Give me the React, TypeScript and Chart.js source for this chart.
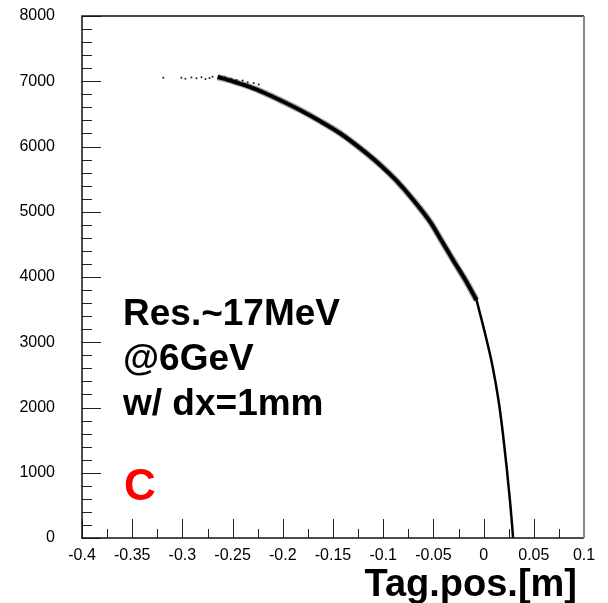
import { useEffect, useRef } from "react";
import { Chart, registerables } from "chart.js";

Chart.register(...registerables);

// ---- axis ticks ----
const X_TICKS = [-0.4, -0.35, -0.3, -0.25, -0.2, -0.15, -0.1, -0.05, 0, 0.05, 0.1];
const X_TICK_LABELS = ["-0.4", "-0.35", "-0.3", "-0.25", "-0.2", "-0.15", "-0.1", "-0.05", "0", "0.05", "0.1"];
const Y_TICKS = [0, 1000, 2000, 3000, 4000, 5000, 6000, 7000, 8000];
const Y_TICK_LABELS = ["0", "1000", "2000", "3000", "4000", "5000", "6000", "7000", "8000"];

// ---- data: upper branch (tag position vs energy, MeV) ----
const UPPER_X = [-0.265, -0.25, -0.233, -0.218, -0.203, -0.183, -0.163, -0.143, -0.123, -0.103, -0.087, -0.07, -0.053, -0.042, -0.03, -0.018, -0.007];
const UPPER_Y = [7065, 7000, 6915, 6820, 6713, 6560, 6390, 6203, 5975, 5718, 5480, 5180, 4840, 4560, 4250, 3950, 3645];

// ---- data: lower (steep) branch ----
const LOWER_X = [-0.007, 0.0014, 0.009, 0.0148, 0.0192, 0.0229, 0.0262, 0.029, 0.0293];
const LOWER_Y = [3645, 3137, 2626, 2115, 1605, 1093, 582, 72, 0];

// ---- data: sparse tail / fuzz points ----
const TAIL_X = [-0.319, -0.301, -0.297, -0.291, -0.286, -0.281, -0.277, -0.273, -0.27, -0.258, -0.252, -0.246, -0.24, -0.235, -0.229, -0.224];
const TAIL_Y = [7055, 7052, 7040, 7058, 7046, 7062, 7036, 7050, 7068, 7060, 7040, 7020, 7010, 6985, 6975, 6950];

// ---- annotations ----
const NOTE_LINES = ["Res.~17MeV", "@6GeV", "w/ dx=1mm"];
const PANEL_LABEL = "C";
const X_TITLE = "Tag.pos.[m]";

const FONT = "'Liberation Sans', Arial, Helvetica, sans-serif";

const toPts = (xs: number[], ys: number[]) => xs.map((x, i) => ({ x, y: ys[i] }));

const decorPlugin = {
  id: "decor",
  afterDraw(chart: any) {
    const { ctx, chartArea: ca, scales } = chart;
    const xs = scales.x;
    const ys = scales.y;
    ctx.save();
    // inward ticks
    ctx.strokeStyle = "#222";
    ctx.lineWidth = 1;
    ctx.beginPath();
    for (let i = 0; i < X_TICKS.length; i++) {
      const px = Math.round(xs.getPixelForValue(X_TICKS[i])) + 0.5;
      ctx.moveTo(px, ca.bottom);
      ctx.lineTo(px, ca.bottom - 19);
      if (i < X_TICKS.length - 1) {
        const m = (X_TICKS[i] + X_TICKS[i + 1]) / 2;
        const pm = Math.round(xs.getPixelForValue(m)) + 0.5;
        ctx.moveTo(pm, ca.bottom);
        ctx.lineTo(pm, ca.bottom - 9);
      }
    }
    for (let i = 0; i < Y_TICKS.length; i++) {
      const py = Math.round(ys.getPixelForValue(Y_TICKS[i])) + 0.5;
      ctx.moveTo(ca.left, py);
      ctx.lineTo(ca.left + 19, py);
      if (i < Y_TICKS.length - 1) {
        const step = (Y_TICKS[i + 1] - Y_TICKS[i]) / 5;
        for (let k = 1; k < 5; k++) {
          const pm = Math.round(ys.getPixelForValue(Y_TICKS[i] + k * step)) + 0.5;
          ctx.moveTo(ca.left, pm);
          ctx.lineTo(ca.left + 10, pm);
        }
      }
    }
    ctx.stroke();

    // frame
    ctx.lineWidth = 1.5;
    ctx.strokeStyle = "#111";
    ctx.beginPath();
    ctx.moveTo(ca.right, ca.top);
    ctx.lineTo(ca.left, ca.top);
    ctx.lineTo(ca.left, ca.bottom);
    ctx.lineTo(ca.right, ca.bottom);
    ctx.stroke();
    ctx.strokeStyle = "#888";
    ctx.lineWidth = 2;
    ctx.beginPath();
    ctx.moveTo(ca.right, ca.top);
    ctx.lineTo(ca.right, ca.bottom);
    ctx.stroke();

    // annotations
    ctx.fillStyle = "#000";
    ctx.textAlign = "left";
    ctx.textBaseline = "alphabetic";
    ctx.font = `bold 37px ${FONT}`;
    const baselines = [325, 370, 415];
    NOTE_LINES.forEach((t, i) => ctx.fillText(t, 123, baselines[i]));

    ctx.fillStyle = "#ff0000";
    ctx.font = `bold 44px ${FONT}`;
    ctx.fillText(PANEL_LABEL, 124, 500);

    ctx.fillStyle = "#000";
    ctx.textAlign = "right";
    ctx.font = `bold 38px ${FONT}`;
    ctx.fillText(X_TITLE, 577, 596);
    ctx.restore();
  },
};

export default function App() {
  const ref = useRef<HTMLCanvasElement | null>(null);

  useEffect(() => {
    document.body.style.margin = "0";
    const canvas = ref.current;
    if (!canvas) return;
    const chart = new Chart(canvas, {
      type: "scatter",
      data: {
        datasets: [
          {
            data: toPts(UPPER_X, UPPER_Y),
            showLine: true,
            borderColor: "rgba(0,0,0,0.35)",
            borderWidth: 6.5,
            pointRadius: 0,
            cubicInterpolationMode: "monotone",
          },
          {
            data: toPts(UPPER_X, UPPER_Y),
            showLine: true,
            borderColor: "#000",
            borderWidth: 4,
            pointRadius: 0,
            cubicInterpolationMode: "monotone",
          },
          {
            data: toPts(LOWER_X, LOWER_Y),
            showLine: true,
            borderColor: "#000",
            borderWidth: 2.5,
            pointRadius: 0,
            cubicInterpolationMode: "monotone",
          },
          {
            data: toPts(TAIL_X, TAIL_Y),
            showLine: false,
            backgroundColor: "#222",
            borderWidth: 0,
            pointRadius: 1,
          },
        ],
      },
      options: {
        responsive: false,
        animation: false,
        events: [],
        layout: { padding: { top: 16, right: 24, left: 0, bottom: 0 } },
        plugins: { legend: { display: false }, tooltip: { enabled: false }, title: { display: false } },
        scales: {
          x: {
            type: "linear",
            min: -0.4,
            max: 0.1,
            afterBuildTicks: (s: any) => {
              s.ticks = X_TICKS.map((v) => ({ value: v }));
            },
            afterFit: (s: any) => {
              s.height = 65;
            },
            grid: { display: false, drawTicks: false },
            border: { display: false },
            ticks: {
              autoSkip: false,
              maxRotation: 0,
              padding: 8,
              color: "#000",
              font: { family: FONT, size: 16 },
              callback: (_v: any, i: number) => X_TICK_LABELS[i],
            },
          },
          y: {
            type: "linear",
            min: 0,
            max: 8000,
            afterBuildTicks: (s: any) => {
              s.ticks = Y_TICKS.map((v) => ({ value: v }));
            },
            afterFit: (s: any) => {
              s.width = 82;
              s.paddingTop = 0;
              s.paddingBottom = 0;
            },
            grid: { display: false, drawTicks: false },
            border: { display: false },
            ticks: {
              autoSkip: false,
              padding: 27,
              color: "#000",
              font: { family: FONT, size: 16 },
              callback: (_v: any, i: number) => Y_TICK_LABELS[i],
            },
          },
        },
      },
      plugins: [decorPlugin],
    });
    return () => chart.destroy();
  }, []);

  return (
    <div style={{ width: 608, height: 603 }}>
      <canvas ref={ref} width={608} height={603} style={{ display: "block" }} />
    </div>
  );
}
